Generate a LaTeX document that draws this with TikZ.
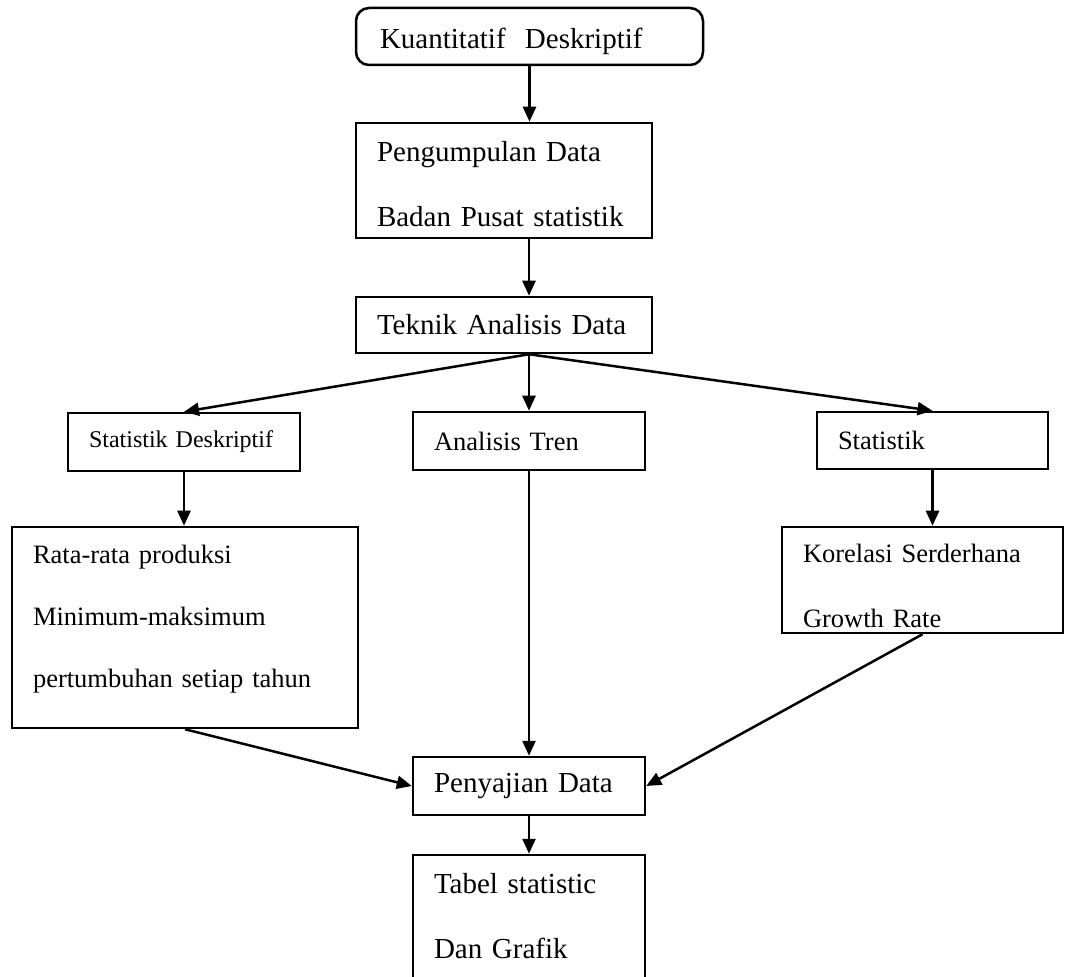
\documentclass[tikz,border=0pt]{standalone}
\usepackage{fontspec}
\setmainfont{Liberation Serif}
\usetikzlibrary{arrows.meta}

\begin{document}
\begin{tikzpicture}[
            x=0.5pt, y=-0.5pt,
            box/.style={rectangle, draw, line width=1.25pt, inner xsep=10.5pt, inner ysep=0pt, align=left,
                        font=\fontsize{14.5}{32.5}\selectfont},
            smalltext/.style={font=\fontsize{13.25}{32.5}\selectfont},
            lower/.style={execute at begin node={\rule{0pt}{#1}}},
            raise/.style={execute at end node={\rule[-#1]{0pt}{#1}}},
            arrow/.style={-{Triangle[width=6.5pt,length=7.5pt]}, line width=1.25pt}
        ]
            \useasboundingbox (0,0) rectangle (1065,977);

            \node[box, rounded corners=6.5pt, inner xsep=12pt, text width=149.5pt, minimum height=28.5pt, lower=15.5pt] (KD) at (529.5,36.5) {Kuantitatif~ Deskriptif};
            \node[box, text width=127pt, minimum height=57.5pt, lower=14pt] (PD) at (504,180.5) {Pengumpulan Data\\Badan Pusat statistik};
            \node[box, text width=127pt, minimum height=28pt] (TAD) at (504,325) {Teknik Analisis Data};

            \node[box, text width=95pt, minimum height=29pt, font=\fontsize{12}{14}\selectfont] (SD) at (184,442) {Statistik Deskriptif};
            \node[box, smalltext, text width=95pt, minimum height=29pt] (AT) at (529,441) {Analisis Tren};
            \node[box, smalltext, text width=94.5pt, minimum height=28.5pt] (ST) at (932.5,440.5) {Statistik};

            \node[box, text width=152pt, minimum height=100.5pt, font=\fontsize{13.25}{31}\selectfont, raise=11.5pt] (LB) at (185,627.5) {Rata-rata produksi\\Minimum-maksimum\\pertumbuhan setiap tahun};
            \node[box, smalltext, text width=119.5pt, minimum height=53pt, lower=15.5pt] (RB) at (922.5,580) {Korelasi Serderhana\\Growth Rate};

            \node[box, text width=95pt, minimum height=29pt] (PEN) at (529,786) {Penyajian Data};
            \node[box, text width=95pt, minimum height=64.5pt] (TAB) at (529,919.5) {Tabel statistic\\Dan Grafik\vphantom{g}};

            \draw[arrow] (KD.south) -- (KD.south |- PD.north);
            \draw[arrow] (PD.south -| AT.north) -- (TAD.north -| AT.north);
            \draw[arrow] (TAD.south -| AT.north) -- (SD.north);
            \draw[arrow] (TAD.south -| AT.north) -- (AT.north);
            \draw[arrow] (TAD.south -| AT.north) -- (ST.north);
            \draw[arrow] (SD.south) -- (SD.south |- LB.north);
            \draw[arrow] (ST.south) -- (ST.south |- RB.north);
            \draw[arrow] (LB.south) -- (PEN.west);
            \draw[arrow] (AT.south) -- (PEN.north);
            \draw[arrow] (RB.south) -- (PEN.east);
            \draw[arrow] (PEN.south) -- (TAB.north);
        \end{tikzpicture}
\end{document}
